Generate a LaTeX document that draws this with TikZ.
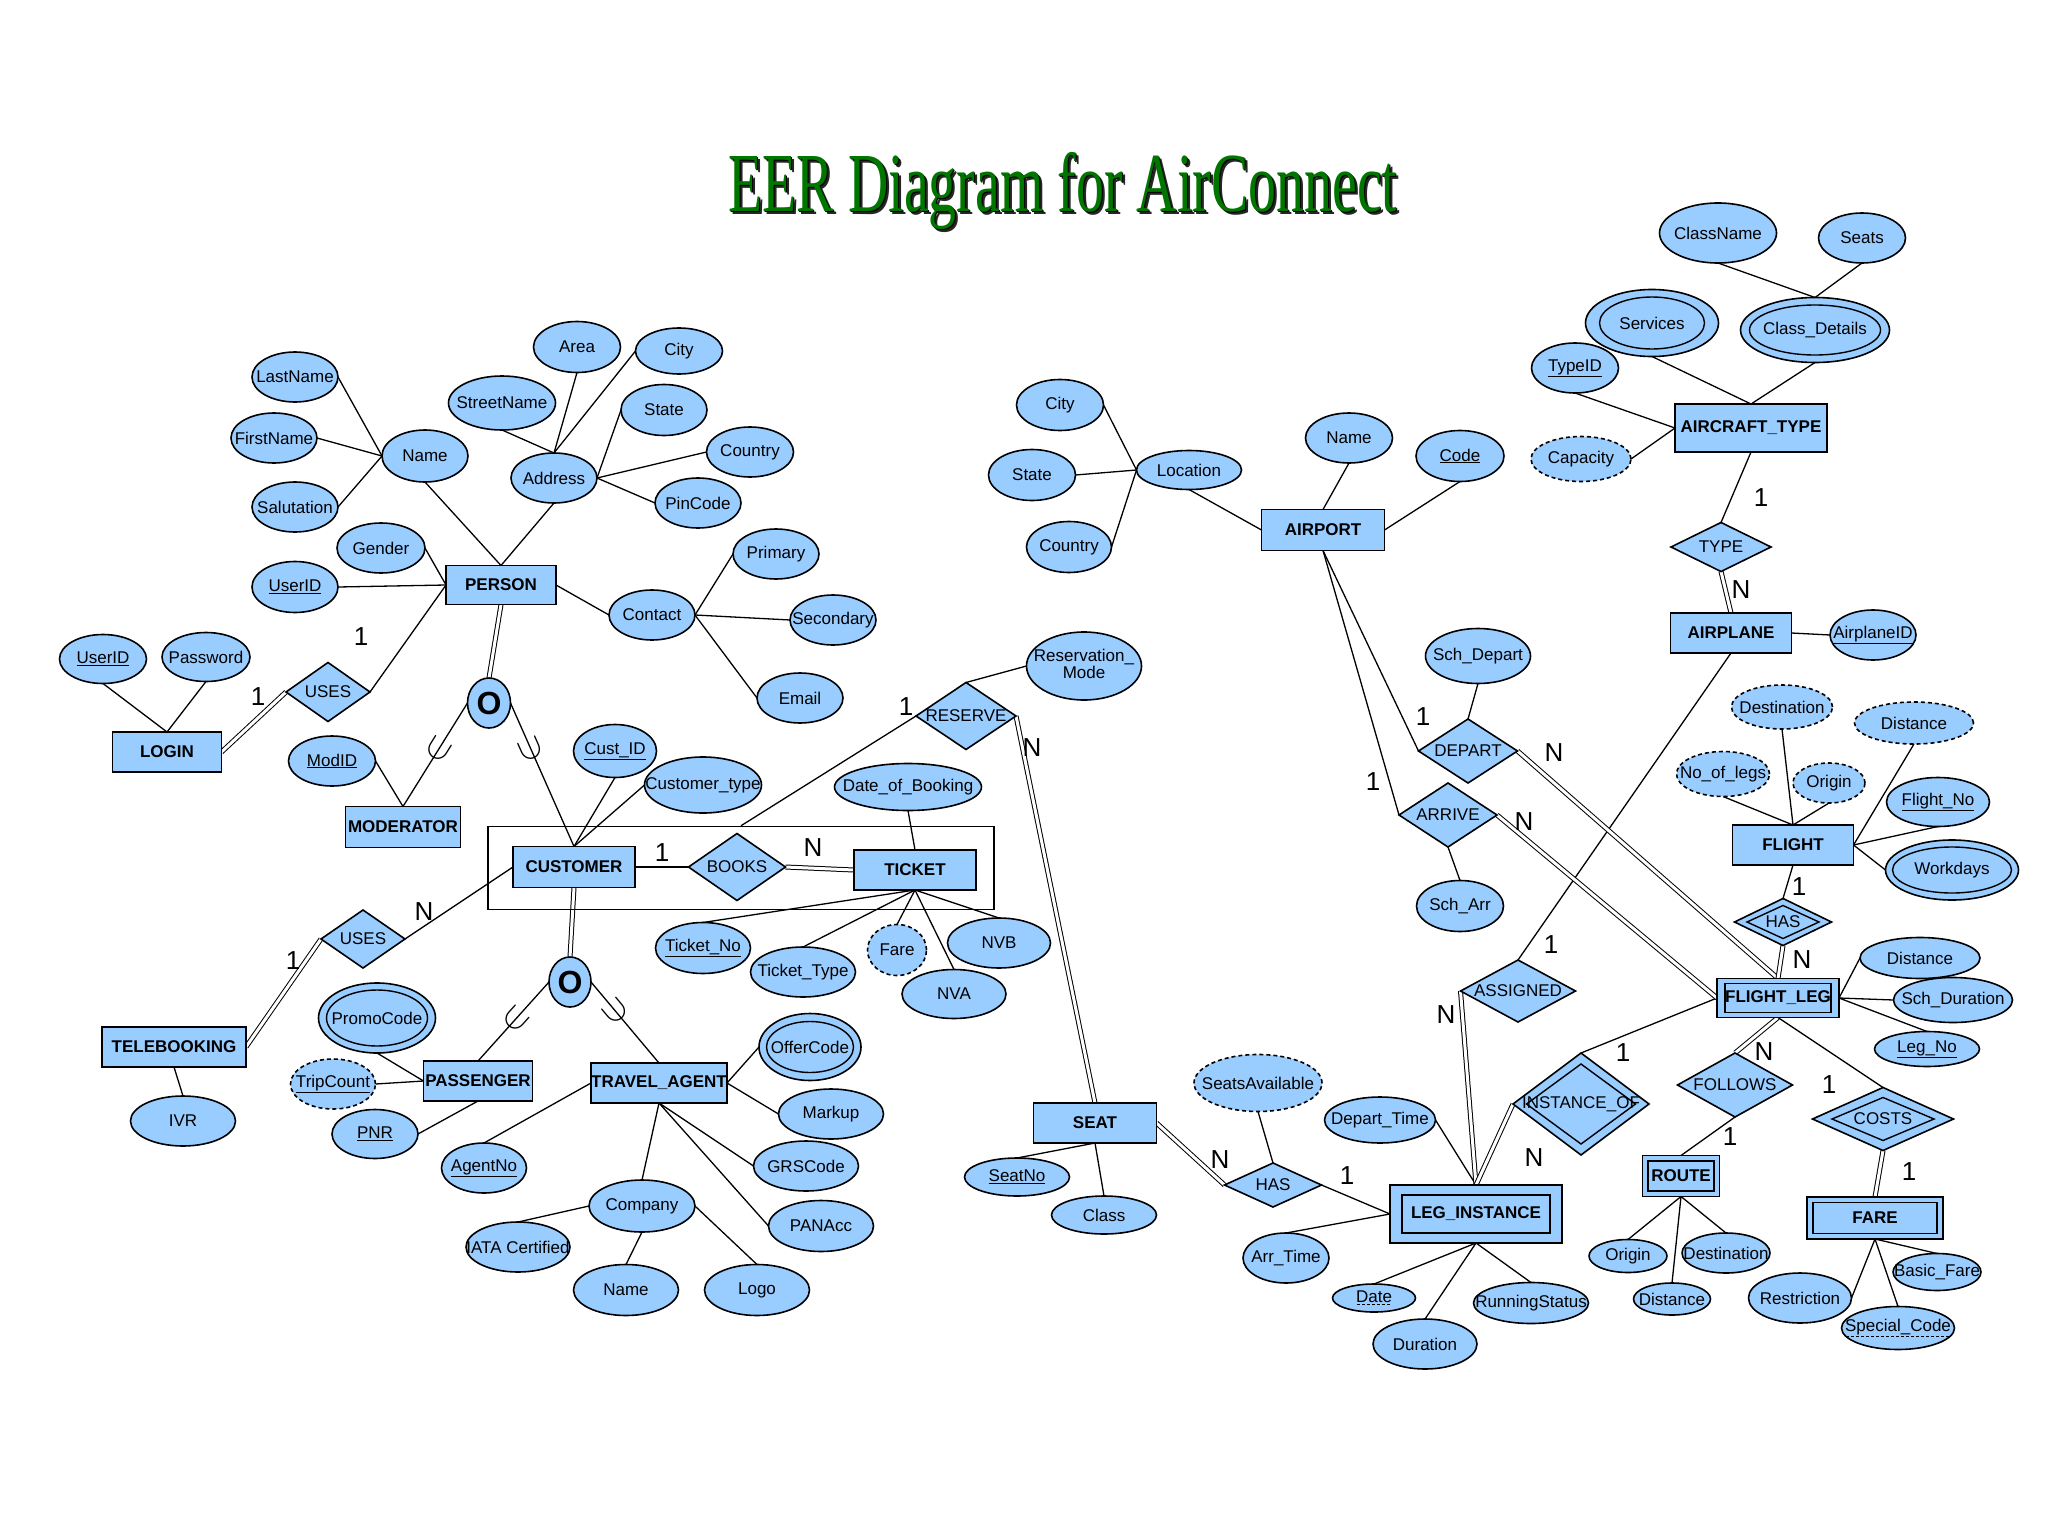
\documentclass[tikz,border=0pt]{standalone}
\usepackage{fontspec}
\setmainfont{Liberation Sans}
\newfontfamily\ttlfont{Liberation Serif}
\usetikzlibrary{shapes.geometric,backgrounds}
\definecolor{eblue}{RGB}{153,204,255}
\definecolor{tgreen}{RGB}{0,118,0}
\newcommand\dul[1]{\setbox0\hbox{#1}\leavevmode\vtop{\offinterlineskip\copy0\kern1.5pt\hbox to\wd0{\leaders\hbox to 5pt{\hss\vrule height 1.2pt width 3pt\hss}\hfil}}}
\newcommand\subglyph{\scalebox{3.4}{$\supset$}}
\tikzset{
 erbase/.style={draw=black, fill=eblue, line width=1.6pt, inner sep=0pt, outer sep=0pt, font=\fontsize{17}{19}\selectfont},
 entb/.style={erbase, rectangle, font=\fontsize{17}{19}\selectfont\bfseries},
 attb/.style={erbase, ellipse},
 relb/.style={erbase, diamond},
 innerb/.style={draw=black, line width=1.4pt, inner sep=0pt, outer sep=0pt},
 derv/.style={dash pattern=on 4pt off 3pt},
 cn/.style={line width=1.3pt},
 dline/.style={double=white, double distance=3pt, line width=1pt},
 cardl/.style={font=\fontsize{26}{26}\selectfont, inner sep=0pt},
 subsym/.style={sloped, allow upside down, inner sep=0pt, font=\normalsize},
 ttl/.style={font=\ttlfont\fontsize{84}{90}\selectfont, inner sep=0pt},
}
\newcommand\ENT[5]{\node[entb, minimum width=#4, minimum height=#5] (#1) at (#2) {\makebox[0pt]{#3}};}
\newcommand\ATT[6][]{\node[attb,#1,minimum width=#5,minimum height=#6] (#2) at (#3) {\makebox[0pt]{#4}};}
\newcommand\REL[5]{\node[relb, minimum width=#4, minimum height=#5] (#1) at (#2) {\makebox[0pt]{#3}};}
\newcommand\WENT[7]{\ENT{#1}{#2}{#3}{#4}{#5}\node[innerb, rectangle, minimum width=#6, minimum height=#7] (#1-in) at (#1) {};}
\newcommand\MATT[7]{\ATT{#1}{#2}{#3}{#4}{#5}\node[innerb, ellipse, minimum width=#6, minimum height=#7] (#1-in) at (#1) {};}
\newcommand\IREL[7]{\REL{#1}{#2}{#3}{#4}{#5}\node[innerb, diamond, minimum width=#6, minimum height=#7] (#1-in) at (#1) {};}
\newcommand\cE[2]{\draw[cn] (#1) -- (#2);}
\newcommand\dE[2]{\draw[dline] (#1) -- (#2);}
\newcommand\ttltext{\scalebox{0.665}[1]{EER Diagram for AirConnect}}
\begin{document}
\begin{tikzpicture}[x=1pt,y=-1pt]
\useasboundingbox (0,0) rectangle (2048,1536);
\begin{pgfonlayer}{background}\fill[white] (0,0) rectangle (2048,1536);\end{pgfonlayer}

% title
\node[ttl, text=black!85] (titleshadow) at (1066,194) {\ttltext};
\node[ttl, text=black] (titleedge) at (1064,192) {\ttltext};
\node[ttl, text=tgreen] (title) at (1063,191) {\ttltext};

% entities
\ENT{person}{501,585}{PERSON}{110}{39}
\ENT{login}{167,752}{LOGIN}{109}{40}
\ENT{moderator}{403,827}{MODERATOR}{115}{41}
\ENT{customer}{574,867}{CUSTOMER}{122}{41}
\ENT{ticket}{915,870}{TICKET}{122}{40}
\ENT{telebooking}{174,1047}{TELEBOOKING}{144}{40}
\ENT{passenger}{478,1081}{PASSENGER}{109}{40}
\ENT{travelagent}{659,1083}{TRAVEL\_AGENT}{136}{40}
\ENT{seat}{1095,1123}{SEAT}{123}{40}
\ENT{airport}{1323,530}{AIRPORT}{123}{41}
\ENT{aircrafttype}{1751,428}{AIRCRAFT\_TYPE}{152}{48}
\ENT{airplane}{1731,633}{AIRPLANE}{121}{40}
\ENT{flight}{1793,845}{FLIGHT}{121}{40}
\WENT{flightleg}{1778,998}{FLIGHT\_LEG}{122}{39}{106}{29}
\WENT{leginstance}{1476,1214}{LEG\_INSTANCE}{172}{58}{148}{38}
\WENT{route}{1681,1176}{ROUTE}{77}{41}{66}{30}
\WENT{fare}{1875,1218}{FARE}{136}{42}{124}{31}

% relationships
\REL{usesL}{328,692}{USES}{84}{59}
\REL{usesT}{363,939}{USES}{84}{58}
\REL{books}{737,867}{BOOKS}{97}{67}
\REL{reserve}{966,716}{RESERVE}{100}{67}
\REL{typeR}{1721,547}{TYPE}{100}{49}
\REL{depart}{1468,751}{DEPART}{99}{64}
\REL{arrive}{1448,815}{ARRIVE}{98}{64}
\REL{assigned}{1518,991}{ASSIGNED}{115}{62}
\REL{hasS}{1273,1185}{HAS}{97}{44}
\REL{follows}{1735,1085}{FOLLOWS}{115}{64}
\IREL{hasF}{1783,922}{HAS}{97}{47}{72}{33}
\IREL{instanceof}{1581,1104}{INSTANCE\_OF}{136}{102}{109}{80}
\IREL{costs}{1883,1119}{COSTS}{141}{63}{102}{43}

% specialization circles
\node[erbase, ellipse, font=\fontsize{32}{32}\selectfont\bfseries, minimum width=43, minimum height=50] (o1) at (489,703) {\makebox[0pt]{O}};
\node[erbase, ellipse, font=\fontsize{32}{32}\selectfont\bfseries, minimum width=42, minimum height=50] (o2) at (570,982) {\makebox[0pt]{O}};

% aggregation box
\node[draw=black, line width=1.5pt, inner sep=0pt, minimum width=506, minimum height=83] (agg) at (741,868) {};

% PERSON attributes
\ATT{aLast}{295,377}{LastName}{86}{50}
\ATT{aFirst}{274,438}{FirstName}{86}{50}
\ATT{aSal}{295,507}{Salutation}{86}{50}
\ATT{aName}{425,456}{Name}{86}{52}
\ATT{aGender}{381,548}{Gender}{88}{50}
\ATT{aUid}{295,587}{\underline{UserID}}{86}{51}
\ATT{aStreet}{502,403}{StreetName}{107}{54}
\ATT{aArea}{577,347}{Area}{87}{51}
\ATT{aCity}{679,351}{City}{87}{46}
\ATT{aState}{664,410}{State}{86}{51}
\ATT{aAddr}{554,478}{Address}{86}{50}
\ATT{aCountry}{750,452}{Country}{87}{50}
\ATT{aPin}{698,503}{PinCode}{86}{50}
\ATT{aContact}{652,615}{Contact}{86}{50}
\ATT{aPrimary}{776,554}{Primary}{86}{50}
\ATT{aSecondary}{833,620}{Secondary}{86}{50}
\ATT{aEmail}{800,698}{Email}{86}{50}
% LOGIN
\ATT{lUid}{103,659}{\underline{UserID}}{87}{49}
\ATT{lPwd}{206,657}{Password}{88}{49}
% MODERATOR
\ATT{mId}{332,761}{\underline{ModID}}{87}{50}
% CUSTOMER
\ATT{cId}{615,751}{\underline{Cust\_ID}}{83}{53}
\ATT{cType}{703,785}{Customer\_type}{117}{56}
% TELEBOOKING
\ATT{tIvr}{183,1121}{IVR}{105}{50}
% PASSENGER
\MATT{pPromo}{377,1018}{PromoCode}{117}{70}{101}{56}
\ATT[derv]{pTrip}{333,1084}{\underline{TripCount}}{85}{50}
\ATT{pPnr}{375,1134}{\underline{PNR}}{86}{49}
% TRAVEL_AGENT
\ATT{gNo}{484,1168}{\underline{AgentNo}}{85}{50}
\MATT{gOffer}{810,1047}{OfferCode}{102}{67}{87}{51}
\ATT{gMarkup}{831,1114}{Markup}{105}{50}
\ATT{gGrs}{806,1166}{GRSCode}{105}{50}
\ATT{gPan}{821,1226}{PANAcc}{105}{51}
\ATT{gComp}{642,1206}{Company}{106}{52}
\ATT{gIata}{518,1247}{IATA Certified}{104}{50}
\ATT{gName}{626,1290}{Name}{105}{51}
\ATT{gLogo}{757,1290}{Logo}{105}{51}
% TICKET
\ATT{kDate}{908,787}{Date\_of\_Booking}{147}{47}
\ATT{kNo}{703,948}{\underline{Ticket\_No}}{95}{51}
\ATT{kType}{803,972}{Ticket\_Type}{105}{50}
\ATT[derv]{kFare}{897,950}{Fare}{59}{51}
\ATT{kNvb}{999,943}{NVB}{103}{50}
\ATT{kNva}{954,994}{NVA}{104}{49}
% RESERVE
\ATT{rMode}{1084,666}{\begin{tabular}{@{}c@{}}Reservation\_\\[-2pt]Mode\end{tabular}}{115}{68}
% SEAT
\ATT{sNo}{1017,1177}{\underline{SeatNo}}{105}{38}
\ATT{sClass}{1104,1215}{Class}{105}{38}
\ATT[derv]{sAvail}{1258,1083}{SeatsAvailable}{128}{57}
% LEG_INSTANCE
\ATT{iDep}{1380,1120}{Depart\_Time}{111}{46}
\ATT{iArr}{1286,1258}{Arr\_Time}{86}{50}
\ATT{iDate}{1374,1298}{\dul{Date}}{83}{28}
\ATT{iDur}{1425,1344}{Duration}{104}{50}
\ATT{iRun}{1531,1303}{RunningStatus}{115}{41}
% AIRPORT
\ATT{pLoc}{1189,470}{Location}{105}{39}
\ATT{pCity}{1060,405}{City}{87}{51}
\ATT{pState}{1032,475}{State}{87}{51}
\ATT{pCountry}{1069,547}{Country}{85}{51}
\ATT{pName}{1349,438}{Name}{87}{50}
\ATT{pCode}{1460,456}{\underline{Code}}{88}{51}
\ATT{dSch}{1478,656}{Sch\_Depart}{105}{55}
\ATT{rSch}{1460,906}{Sch\_Arr}{87}{51}
% AIRCRAFT_TYPE
\ATT{tClassName}{1718,233}{ClassName}{117}{60}
\ATT{tSeats}{1862,238}{Seats}{87}{50}
\MATT{tServices}{1652,323}{Services}{133}{67}{105}{52}
\MATT{tClass}{1815,330}{Class\_Details}{149}{65}{131}{50}
\ATT{tTypeId}{1575,368}{\underline{TypeID}}{87}{50}
\ATT[derv]{tCap}{1581,459}{Capacity}{100}{45}
% AIRPLANE
\ATT{aPid}{1873,635}{\underline{AirplaneID}}{86}{50}
% FLIGHT
\ATT[derv]{fDest}{1782,707}{Destination}{101}{44}
\ATT[derv]{fDist}{1914,723}{Distance}{119}{42}
\ATT[derv]{fLegs}{1723,774}{No\_of\_legs}{93}{45}
\ATT[derv]{fOrig}{1829,783}{Origin}{72}{40}
\ATT{fNo}{1938,802}{\underline{Flight\_No}}{103}{49}
\MATT{fWork}{1952,870}{Workdays}{133}{60}{119}{46}
% FLIGHT_LEG
\ATT{lDist}{1920,958}{Distance}{120}{41}
\ATT{lDur}{1953,1000}{Sch\_Duration}{119}{45}
\ATT{lNo}{1927,1049}{\underline{Leg\_No}}{105}{35}
% ROUTE
\ATT{oOrig}{1628,1256}{Origin}{78}{33}
\ATT{oDest}{1726,1253}{Destination}{88}{40}
\ATT{oDist}{1672,1299}{Distance}{77}{32}
% FARE
\ATT{eRes}{1800,1298}{Restriction}{103}{50}
\ATT{eBasic}{1937,1272}{Basic\_Fare}{88}{37}
\ATT{eSpec}{1898,1328}{\dul{Special\_Code}}{113}{43}

% cardinalities
\node[cardl] (k1) at (361,637) {1};
\node[cardl] (k2) at (258,697) {1};
\node[cardl] (k3) at (662,853) {1};
\node[cardl] (k4) at (813,848) {N};
\node[cardl] (k5) at (424,912) {N};
\node[cardl] (k6) at (293,961) {1};
\node[cardl] (k7) at (906,707) {1};
\node[cardl] (k8) at (1032,748) {N};
\node[cardl] (k9) at (1761,498) {1};
\node[cardl] (k10) at (1741,590) {N};
\node[cardl] (k11) at (1423,717) {1};
\node[cardl] (k12) at (1554,753) {N};
\node[cardl] (k13) at (1373,782) {1};
\node[cardl] (k14) at (1524,822) {N};
\node[cardl] (k15) at (1551,945) {1};
\node[cardl] (k16) at (1446,1015) {N};
\node[cardl] (k17) at (1799,887) {1};
\node[cardl] (k18) at (1802,960) {N};
\node[cardl] (k19) at (1220,1160) {N};
\node[cardl] (k20) at (1347,1176) {1};
\node[cardl] (k21) at (1623,1053) {1};
\node[cardl] (k22) at (1534,1158) {N};
\node[cardl] (k23) at (1764,1052) {N};
\node[cardl] (k24) at (1730,1137) {1};
\node[cardl] (k25) at (1829,1085) {1};
\node[cardl] (k26) at (1909,1172) {1};

\begin{pgfonlayer}{background}
% person
\cE{aLast.east}{aName.west}
\cE{aFirst.east}{aName.west}
\cE{aSal.east}{aName.west}
\cE{aName.south}{person.north}
\cE{aGender.east}{person.west}
\cE{aUid.east}{person.west}
\cE{usesL.east}{person.west}
\cE{aAddr.south}{person.north}
\cE{aStreet.south}{aAddr.north}
\cE{aArea.south}{aAddr.north}
\cE{aCity.west}{aAddr.north}
\cE{aState.west}{aAddr.east}
\cE{aCountry.west}{aAddr.east}
\cE{aPin.west}{aAddr.east}
\cE{person.east}{aContact.west}
\cE{aContact.east}{aPrimary.west}
\cE{aContact.east}{aSecondary.west}
\cE{aContact.east}{aEmail.west}
% login
\cE{lUid.south}{login.north}
\cE{lPwd.south}{login.north}
\dE{login.east}{usesL.west}
% specialization 1
\dE{person.south}{o1.north}
\draw[cn] (o1.west) -- node[subsym, pos=0.45] (sy1) {\subglyph} (moderator.north);
\draw[cn] (o1.east) -- node[subsym, pos=0.32] (sy2) {\subglyph} (customer.north);
\cE{mId.east}{moderator.north}
% customer
\cE{cId.south}{customer.north}
\cE{cType.west}{customer.north}
\cE{customer.east}{books.west}
\dE{books.east}{ticket.west}
\cE{agg.north}{reserve.west}
\cE{reserve.north}{rMode.west}
\dE{reserve.east}{seat.north}
\cE{customer.west}{usesT.east}
\dE{usesT.west}{telebooking.east}
\cE{telebooking.south}{tIvr.north}
% specialization 2
\dE{customer.south}{o2.north}
\draw[cn] (o2.west) -- node[subsym, pos=0.47] (sy3) {\subglyph} (passenger.north);
\draw[cn] (o2.east) -- node[subsym, pos=0.36] (sy4) {\subglyph} (travelagent.north);
% passenger
\cE{pPromo.south}{passenger.west}
\cE{pTrip.east}{passenger.west}
\cE{pPnr.east}{passenger.south}
% travel agent
\cE{gNo.north}{travelagent.west}
\cE{gOffer.west}{travelagent.east}
\cE{gMarkup.west}{travelagent.east}
\cE{gGrs.west}{travelagent.south}
\cE{gPan.west}{travelagent.south}
\cE{gComp.north}{travelagent.south}
\cE{gIata.north}{gComp.west}
\cE{gName.north}{gComp.south}
\cE{gLogo.north}{gComp.east}
% ticket
\cE{kDate.south}{ticket.north}
\cE{kNo.north}{ticket.south}
\cE{kType.north}{ticket.south}
\cE{kFare.north}{ticket.south}
\cE{kNva.north}{ticket.south}
\cE{kNvb.north}{ticket.south}
% seat
\cE{sNo.north}{seat.south}
\cE{sClass.north}{seat.south}
\dE{seat.east}{hasS.west}
\cE{hasS.north}{sAvail.south}
\cE{hasS.east}{leginstance.west}
% leg instance
\cE{iArr.north}{leginstance.west}
\cE{iDep.east}{leginstance.north}
\cE{leginstance.south}{iDate.north}
\cE{leginstance.south}{iDur.north}
\cE{leginstance.south}{iRun.north}
\dE{leginstance.north}{assigned.west}
\dE{leginstance.north}{instanceof.west}
\cE{instanceof.north}{flightleg.west}
\cE{assigned.north}{airplane.south}
% airport
\cE{airport.south}{depart.west}
\cE{airport.south}{arrive.west}
\cE{depart.north}{dSch.south}
\dE{depart.east}{flightleg.north}
\dE{arrive.east}{flightleg.west}
\cE{arrive.south}{rSch.north}
\cE{airport.west}{pLoc.south}
\cE{pCity.east}{pLoc.west}
\cE{pState.east}{pLoc.west}
\cE{pCountry.east}{pLoc.west}
\cE{airport.north}{pName.south}
\cE{airport.east}{pCode.south}
% aircraft type
\cE{tClassName.south}{tClass.north}
\cE{tSeats.south}{tClass.north}
\cE{tClass.south}{aircrafttype.north}
\cE{tServices.south}{aircrafttype.north}
\cE{tTypeId.south}{aircrafttype.west}
\cE{tCap.east}{aircrafttype.west}
\cE{aircrafttype.south}{typeR.north}
\dE{typeR.south}{airplane.north}
\cE{airplane.east}{aPid.west}
% flight
\cE{fDest.south}{flight.north}
\cE{fLegs.south}{flight.north}
\cE{fOrig.south}{flight.north}
\cE{fDist.south}{flight.east}
\cE{fNo.south}{flight.east}
\cE{fWork.west}{flight.east}
\cE{flight.south}{hasF.north}
\dE{hasF.south}{flightleg.north}
% flight leg
\cE{flightleg.east}{lDist.west}
\cE{flightleg.east}{lDur.west}
\cE{flightleg.east}{lNo.north}
\dE{flightleg.south}{follows.north}
\cE{flightleg.south}{costs.north}
\cE{follows.south}{route.north}
\dE{costs.south}{fare.north}
% route
\cE{route.south}{oOrig.north}
\cE{route.south}{oDist.north}
\cE{route.south}{oDest.north}
% fare
\cE{fare.south}{eRes.east}
\cE{fare.south}{eSpec.north}
\cE{fare.south}{eBasic.north}
\end{pgfonlayer}
\end{tikzpicture}
\end{document}
